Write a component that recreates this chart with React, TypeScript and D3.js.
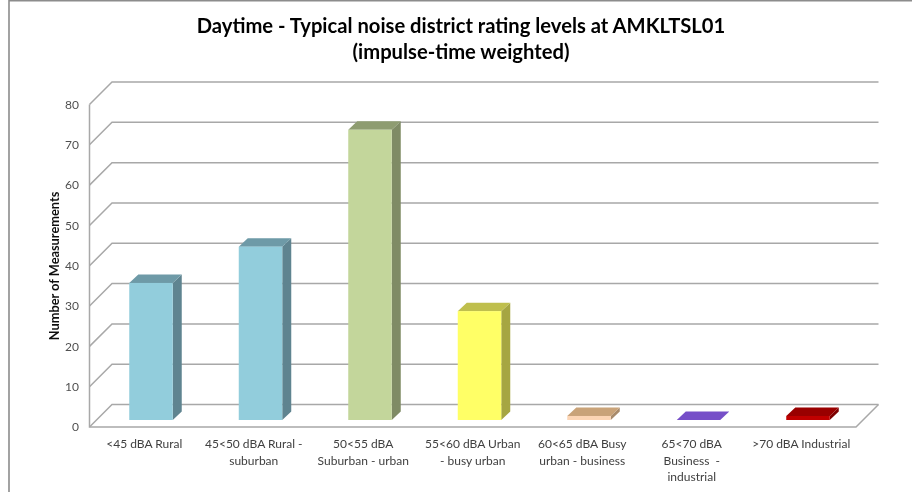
import React from "react";
import * as d3 from "d3";

const titleLines = ["Daytime - Typical noise district rating levels at AMKLTSL01", "(impulse-time weighted)"];
const categories = [
  ["<45 dBA Rural"],
  ["45<50 dBA Rural -", "suburban"],
  ["50<55 dBA", "Suburban - urban"],
  ["55<60 dBA Urban", "- busy urban"],
  ["60<65 dBA Busy", "urban - business"],
  ["65<70 dBA", "Business  -", "industrial"],
  [">70 dBA Industrial"],
];
const values = [34, 43, 72, 27, 1, 0, 1];
const frontColors = ["#92CDDC", "#92CDDC", "#C3D69B", "#FFFF66", "#FCD5B5", "#7F5FCF", "#C00000"];
const topColors = ["#6E9AA7", "#6E9AA7", "#8E9C71", "#BFBF4D", "#C9A379", "#7650C8", "#990000"];
const sideColors = ["#5F8490", "#5F8490", "#7F8B65", "#A6A642", "#A88B6C", "#6A48B0", "#7D0000"];
const ticks = d3.range(0, 90, 10);

const W = 912, H = 492;
const fx0 = 89.5, fx1 = 856, fy0 = 427, fy80 = 104.5;
const dx = 22.5, dy = 22.5;
const y = d3.scaleLinear().domain([0, 80]).range([fy0, fy80]);
const x = d3.scaleBand<number>().domain(d3.range(categories.length)).range([fx0, fx1]);
const barMidX = 6.75, barMidY = 7, barW = 43.5, barDX = 9, barDY = 8.5;
const font = "Lato, Carlito, sans-serif";
const grid = "#A8A8A8";
const poly = (pts: number[][]) => d3.line()(pts as [number, number][]) + "Z";

export default function App() {
  return (
    <svg width={W} height={H} viewBox={`0 0 ${W} ${H}`} style={{ position: "absolute", left: 0, top: 0, display: "block", background: "#fff" }}>
      <defs>
        <filter id="soft" x="-5%" y="-5%" width="110%" height="110%">
          <feGaussianBlur stdDeviation="0.45" />
        </filter>
      </defs>
      <g filter="url(#soft)">
        <path d={`M9,${H}V0.8H${W}`} fill="none" stroke="#8C8C8C" strokeWidth={1.6} />
        {ticks.map((t) => (
          <path key={t} d={`M${fx0},${y(t)}L${fx0 + dx},${y(t) - dy}H${fx1 + dx}`} fill="none" stroke={grid} strokeWidth={1.5} />
        ))}
        <path d={`M${fx0},${y(80)}V${fy0}H${fx1}L${fx1 + dx},${fy0 - dy}`} fill="none" stroke={grid} strokeWidth={1.5} />
        {values.map((v, i) => {
          const l = (x(i) as number) + x.bandwidth() / 2 + barMidX - barW / 2;
          const r = l + barW;
          const b = y(0) - barMidY;
          const t = y(v) - barMidY;
          return (
            <g key={i}>
              <path d={poly([[r, t], [r + barDX, t - barDY], [r + barDX, b - barDY], [r, b]])} fill={sideColors[i]} />
              <path d={poly([[l, t], [l + barDX, t - barDY], [r + barDX, t - barDY], [r, t]])} fill={topColors[i]} />
              {v > 0 && <rect x={l} y={t} width={barW} height={b - t} fill={frontColors[i]} />}
            </g>
          );
        })}
        {ticks.map((t) => (
          <text key={t} x={79} y={y(t)} dy="0.35em" textAnchor="end" fontFamily={font} fontSize={12} fill="#505050">{t}</text>
        ))}
        {categories.map((lines, i) => (
          <text key={i} textAnchor="middle" fontFamily={font} fontSize={12} fill="#404040">
            {lines.map((s, j) => (
              <tspan key={j} x={(x(i) as number) + x.bandwidth() / 2} y={448 + j * 16.5} style={{ whiteSpace: "pre" }}>{s}</tspan>
            ))}
          </text>
        ))}
        <text transform="translate(59,266) rotate(-90)" textAnchor="middle" fontFamily={font} fontWeight={700} fontSize={12.8} fill="#111">Number of Measurements</text>
        {titleLines.map((s, i) => (
          <text key={i} x={461} y={33 + i * 26} textAnchor="middle" fontFamily={font} fontWeight={700} fontSize={20.2} fill="#000">{s}</text>
        ))}
      </g>
    </svg>
  );
}
